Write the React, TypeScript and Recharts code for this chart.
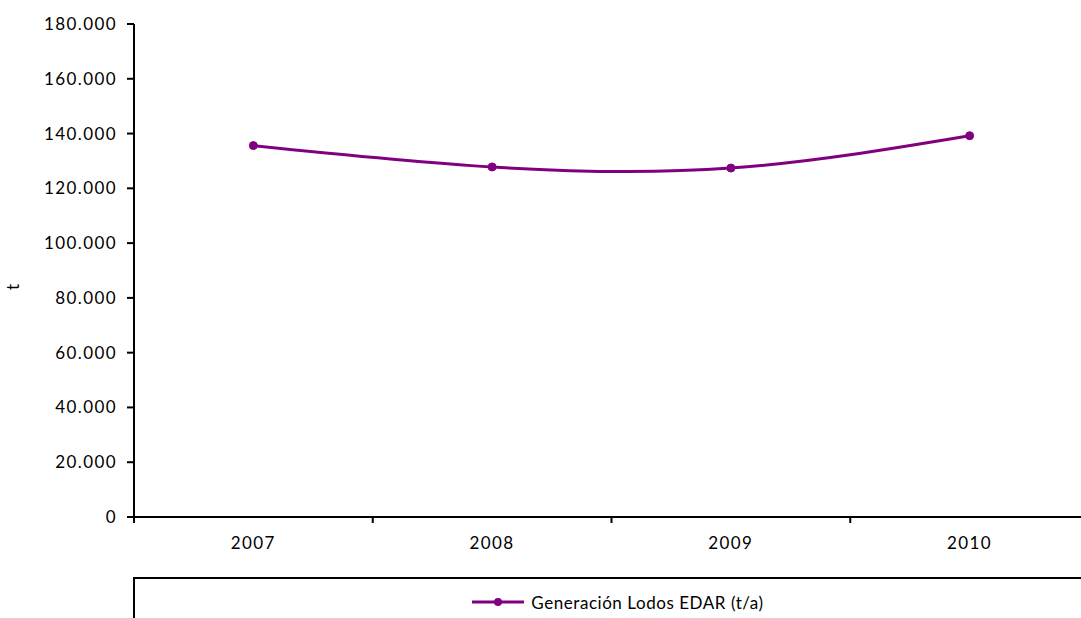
import type { ReactElement } from "react";
import { Legend, Line, LineChart, XAxis, YAxis } from "recharts";

const YEARS = ["2007", "2008", "2009", "2010"];
const LODOS_EDAR = [135600, 127800, 127400, 139200];
const Y_TICKS = [0, 20000, 40000, 60000, 80000, 100000, 120000, 140000, 160000, 180000];
const SERIES_NAME = "Generación Lodos EDAR (t/a)";

const PURPLE = "#800080";
const FONT = "Lato, 'Liberation Sans', sans-serif";

// points sit in the middle of each category band, ticks on band edges
const data = YEARS.map((year, i) => ({ pos: i + 0.5, year, value: LODOS_EDAR[i] }));
const xTicks: number[] = [];
for (let i = 0; i <= YEARS.length; i++) {
  xTicks.push(i);
  if (i < YEARS.length) xTicks.push(i + 0.5);
}

function formatThousands(value: number): string {
  return String(value).replace(/\B(?=(\d{3})+(?!\d))/g, ".");
}

function XTick({ x, y, payload }: { x?: number; y?: number; payload?: { value: number } }): ReactElement {
  const v = payload?.value ?? 0;
  const px = x ?? 0;
  const py = y ?? 0;
  if (Number.isInteger(v)) {
    return <line x1={px} x2={px} y1={py} y2={py + 6} stroke="#000" strokeWidth={2} />;
  }
  return (
    <text
      x={px}
      y={py + 28}
      textAnchor="middle"
      dominantBaseline="middle"
      fill="#000"
      fontSize={17}
      letterSpacing={1.4}
      fontFamily={FONT}
    >
      {YEARS[Math.floor(v)]}
    </text>
  );
}

function LegendContent(): ReactElement {
  return (
    <div
      style={{
        display: "flex",
        justifyContent: "center",
        alignItems: "center",
        height: 46,
        fontFamily: FONT,
        fontSize: 17,
        letterSpacing: 0.55,
        color: "#000",
      }}
    >
      <svg width={52} height={10}>
        <line x1={0} x2={52} y1={5} y2={5} stroke={PURPLE} strokeWidth={3} />
        <circle cx={26} cy={5} r={4} fill={PURPLE} />
      </svg>
      <span style={{ marginLeft: 7 }}>{SERIES_NAME}</span>
    </div>
  );
}

export default function App(): ReactElement {
  return (
    <div style={{ width: 1081, height: 618, overflow: "hidden", position: "relative", background: "#fff" }}>
      <style>{"body{margin:0;overflow:hidden}"}</style>
      <LineChart
        width={1120}
        height={618}
        data={data}
        margin={{ top: 24, right: 31, bottom: 71, left: 0 }}
      >
        <XAxis
          dataKey="pos"
          type="number"
          domain={[0, YEARS.length]}
          ticks={xTicks}
          interval={0}
          height={30}
          tickSize={0}
          tickMargin={0}
          tickLine={false}
          axisLine={{ stroke: "#000", strokeWidth: 2 }}
          tick={<XTick />}
        />
        <YAxis
          type="number"
          domain={[0, 180000]}
          ticks={Y_TICKS}
          interval={0}
          width={134}
          tickSize={7}
          tickMargin={10}
          tickFormatter={formatThousands}
          tickLine={{ stroke: "#000", strokeWidth: 2 }}
          axisLine={{ stroke: "#000", strokeWidth: 2 }}
          tick={{ fill: "#000", fontSize: 17, fontFamily: FONT, letterSpacing: 1.4 }}
          label={{
            value: "t",
            content: () => (
              <text
                x={15}
                y={287}
                transform="rotate(-90 15 287)"
                textAnchor="middle"
                dominantBaseline="middle"
                fill="#000"
                fontSize={17}
                fontFamily={FONT}
              >
                t
              </text>
            ),
          }}
        />
        <Legend
          verticalAlign="middle"
          layout="horizontal"
          content={<LegendContent />}
          wrapperStyle={{
            position: "absolute",
            left: 133,
            top: 577,
            width: 970,
            height: 80,
            border: "2px solid #000",
            boxSizing: "border-box",
          }}
        />
        <Line
          type="natural"
          dataKey="value"
          name={SERIES_NAME}
          stroke={PURPLE}
          strokeWidth={3}
          dot={{ r: 4, fill: PURPLE, stroke: PURPLE, strokeWidth: 1 }}
          isAnimationActive={false}
        />
      </LineChart>
    </div>
  );
}
